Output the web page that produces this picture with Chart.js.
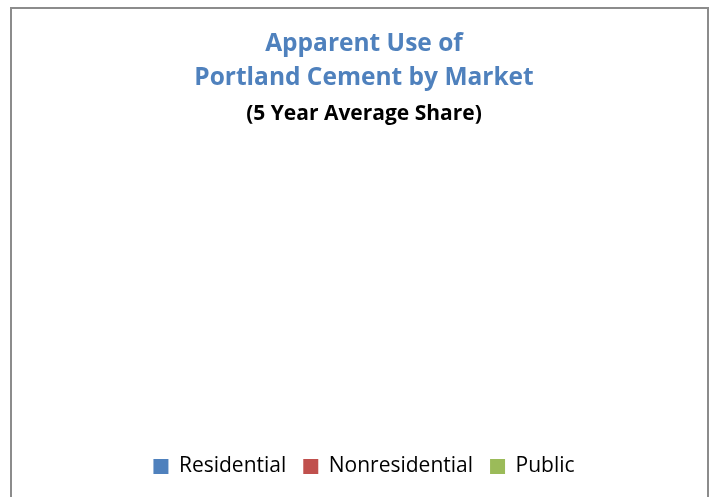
<!DOCTYPE html>
<html>
<head>
<meta charset="utf-8">
<script src="https://cdn.jsdelivr.net/npm/chart.js@4"></script>
<style>
  body { margin: 0; background: #fff; }
  #frame { position: absolute; left: 10px; top: 7px; width: 695px; height: 500px;
           border: 2px solid #8c8c8c; border-bottom: none; }
  #chart { position: absolute; left: 0; top: 0; }
</style>
</head>
<body>
<div id="frame"></div>
<canvas id="chart" width="710" height="497"></canvas>
<script>
// markets in the legend
var markets = ['Residential', 'Nonresidential', 'Public'];
// 5 year average share - the reference shows no slices at all
var shares = [0, 0, 0];
var sliceColors = ['#4F81BD', '#C0504D', '#9BBB59'];

var ctx = document.getElementById('chart').getContext('2d');

new Chart(ctx, {
  type: 'pie',
  data: {
    labels: markets,
    datasets: [{
      data: shares,
      backgroundColor: sliceColors,
      borderWidth: 0
    }]
  },
  options: {
    responsive: false,
    animation: false,
    layout: { padding: { left: 22, right: 4, bottom: 10 } },
    plugins: {
      title: {
        display: true,
        text: ['Apparent Use of', 'Portland Cement by Market'],
        color: '#4F81BD',
        font: { family: 'Open Sans', size: 24.5, weight: 'bold', lineHeight: 1.39 },
        padding: { top: 27, bottom: 0 }
      },
      subtitle: {
        display: true,
        text: '(5 Year Average Share)',
        color: '#000',
        font: { family: 'Open Sans', size: 21, weight: 'bold', lineHeight: 1.2 },
        padding: { top: 6, bottom: 10 }
      },
      legend: {
        position: 'bottom',
        labels: {
          color: '#000',
          font: { family: 'Open Sans', size: 21 },
          boxWidth: 15,
          boxHeight: 15,
          padding: 17
        }
      },
      tooltip: { enabled: false }
    }
  }
});
</script>
</body>
</html>
